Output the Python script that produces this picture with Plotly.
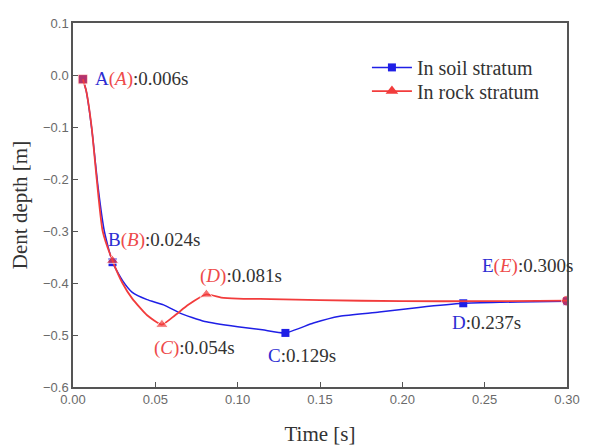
import plotly.graph_objects as go

# ---- data ----
soil_t = [0.006, 0.008, 0.010, 0.012, 0.015, 0.019, 0.024, 0.030, 0.036, 0.045,
          0.055, 0.065, 0.080, 0.100, 0.115, 0.129, 0.146, 0.162, 0.186, 0.210, 0.237,
          0.260, 0.280, 0.300]
soil_d = [-0.008, -0.03, -0.07, -0.12, -0.21, -0.30, -0.360, -0.395, -0.418, -0.432,
          -0.442, -0.458, -0.474, -0.484, -0.490, -0.496, -0.477, -0.464, -0.456, -0.447, -0.439,
          -0.437, -0.436, -0.435]
rock_t = [0.006, 0.008, 0.0113, 0.0144, 0.018, 0.024, 0.030, 0.036, 0.045, 0.054,
          0.062, 0.070, 0.081, 0.090, 0.100, 0.120, 0.150, 0.200, 0.250, 0.300]
rock_d = [-0.008, -0.03, -0.10, -0.20, -0.30, -0.357, -0.40, -0.43, -0.462, -0.480,
          -0.462, -0.442, -0.422, -0.428, -0.430, -0.431, -0.433, -0.435, -0.435, -0.434]

soil_key_t = [0.006, 0.024, 0.129, 0.237, 0.300]
soil_key_d = [-0.008, -0.360, -0.496, -0.439, -0.435]
rock_key_t = [0.006, 0.024, 0.054, 0.081, 0.300]
rock_key_d = [-0.008, -0.357, -0.480, -0.422, -0.434]

x_ticks = [0.00, 0.05, 0.10, 0.15, 0.20, 0.25, 0.30]
y_ticks = [0.1, 0.0, -0.1, -0.2, -0.3, -0.4, -0.5, -0.6]

BLUE = "#1f1fe6"
RED = "#f23c3c"
TBLUE = "#2d2dd2"
TRED = "#ee4a4a"
SERIF = "Liberation Serif, Times New Roman, serif"

fig = go.Figure()
fig.add_trace(go.Scatter(x=soil_t, y=soil_d, mode="lines", line=dict(color=BLUE, width=1.5,
                         shape="spline", smoothing=0.5), showlegend=False, hoverinfo="skip"))
fig.add_trace(go.Scatter(x=soil_key_t, y=soil_key_d, mode="markers",
                         marker=dict(symbol="square", size=8, color=BLUE), showlegend=False))
fig.add_trace(go.Scatter(x=rock_t, y=rock_d, mode="lines", line=dict(color=RED, width=1.8,
                         shape="spline", smoothing=0.5), showlegend=False, hoverinfo="skip"))
fig.add_trace(go.Scatter(x=rock_key_t, y=rock_key_d, mode="markers",
                         marker=dict(symbol=["square", "triangle-up", "triangle-up", "triangle-up", "circle"],
                                     size=[10, 11, 11, 11, 11], color=RED), showlegend=False))
# legend entries (one legend per row to control row spacing)
fig.add_trace(go.Scatter(x=[None], y=[None], mode="lines+markers", name="In soil stratum",
                         line=dict(color=BLUE, width=1.5), marker=dict(symbol="square", size=8, color=BLUE),
                         legend="legend"))
fig.add_trace(go.Scatter(x=[None], y=[None], mode="lines+markers", name="In rock stratum",
                         line=dict(color=RED, width=1.8), marker=dict(symbol="triangle-up", size=11, color=RED),
                         legend="legend2"))

def lab(t, d, text, xs, ys):
    fig.add_annotation(x=t, y=d, text=text, showarrow=False, xanchor="left", yanchor="middle",
                       xshift=xs, yshift=ys, font=dict(family=SERIF, size=19, color="#333333"))

b = lambda s: f'<span style="color:{TBLUE}">{s}</span>'
r = lambda s: f'<span style="color:{TRED}">({"<i>" + s + "</i>"})</span>'

lab(soil_key_t[0], soil_key_d[0], b("A") + r("A") + ":0.006s", 10, 0)
lab(soil_key_t[1], soil_key_d[1], b("B") + r("B") + ":0.024s", -7, 22)
lab(rock_key_t[3], rock_key_d[3], r("D") + ":0.081s", -8, 18)
lab(rock_key_t[2], rock_key_d[2], r("C") + ":0.054s", -10, -23)
lab(soil_key_t[2], soil_key_d[2], b("C") + ":0.129s", -19, -23)
lab(soil_key_t[3], soil_key_d[3], b("D") + ":0.237s", -13, -19)
lab(soil_key_t[4], soil_key_d[4], b("E") + r("E") + ":0.300s", -87, 35)

axis_common = dict(showline=True, linecolor="#555555", linewidth=1.5, mirror=True,
                   ticks="inside", ticklen=5, tickcolor="#555555", tickwidth=1,
                   showgrid=False, zeroline=False,
                   tickfont=dict(family="Liberation Sans, Arial, sans-serif", size=13, color="#6a6a6a"))

fig.update_xaxes(range=[0, 0.30], tickvals=x_ticks, tickformat=".2f",
                 title=dict(text="Time [s]", font=dict(family=SERIF, size=21, color="#333333"), standoff=20),
                 **axis_common)
fig.update_yaxes(range=[-0.6, 0.1], tickvals=y_ticks, tickformat=".1f",
                 title=dict(text="Dent depth [m]", font=dict(family=SERIF, size=21, color="#333333"), standoff=12),
                 **axis_common)

leg_common = dict(x=0.595, xanchor="left", yanchor="middle",
                  font=dict(family=SERIF, size=20, color="#333333"),
                  bgcolor="rgba(0,0,0,0)", itemwidth=40)
fig.update_layout(width=594, height=446, margin=dict(l=65, r=35, t=8, b=67),
                  paper_bgcolor="white", plot_bgcolor="white",
                  legend=dict(y=0.878, **leg_common),
                  legend2=dict(y=0.813, **leg_common))

fig.write_html("out.html")
